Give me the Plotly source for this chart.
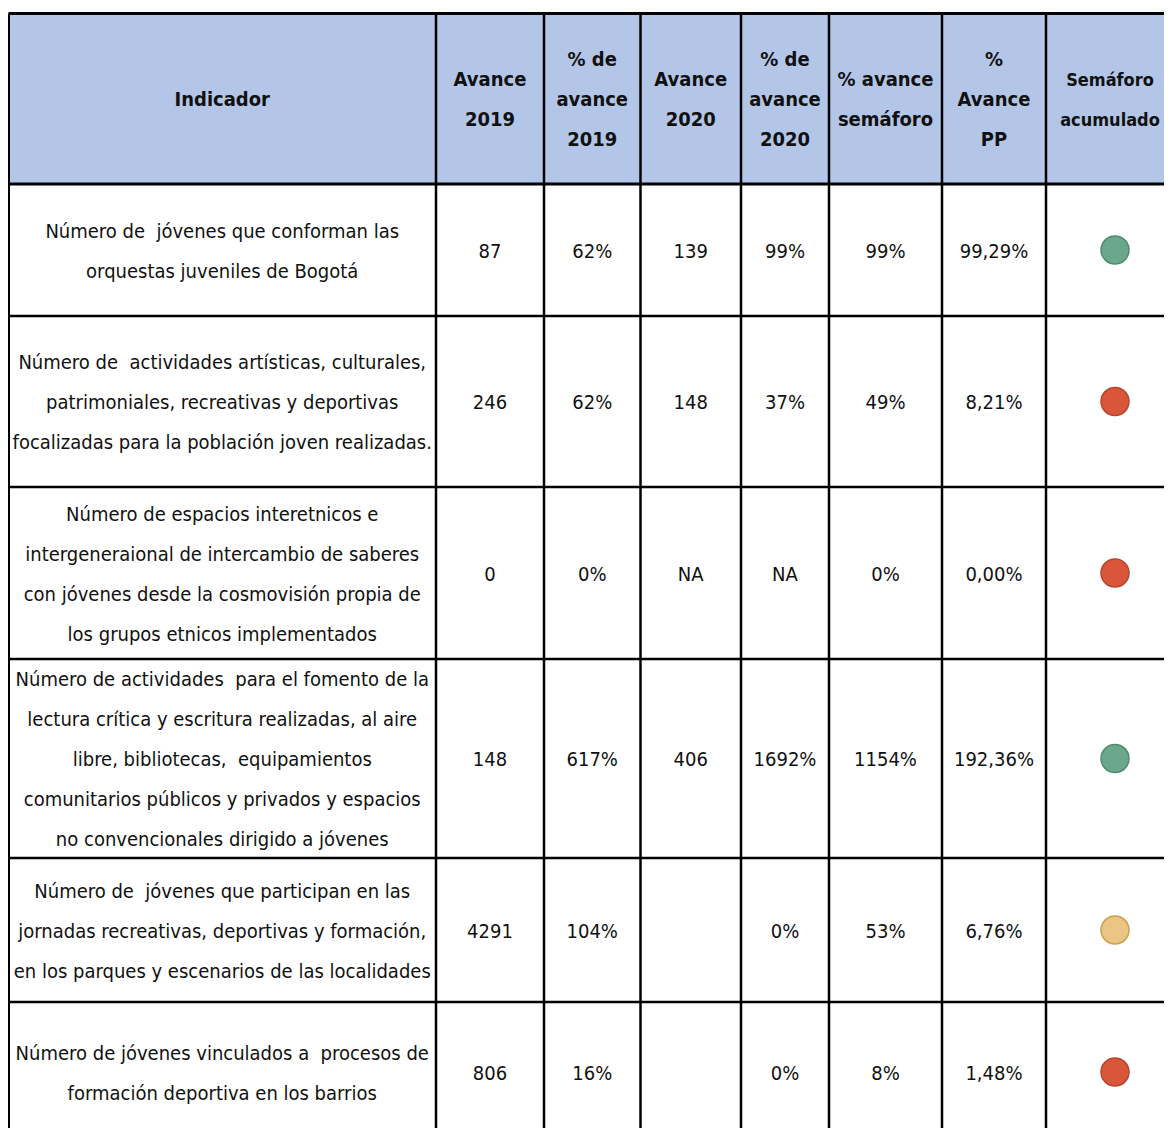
import plotly.graph_objects as go

# table content
headers = ["Indicador", "Avance<br>2019", "% de<br>avance<br>2019", "Avance<br>2020",
           "% de<br>avance<br>2020", "% avance<br>semáforo", "%<br>Avance<br>PP",
           "Semáforo<br>acumulado"]

indicadores = [
    "Número de \u00a0jóvenes que conforman las<br>orquestas juveniles de Bogotá",
    "Número de \u00a0actividades artísticas, culturales,<br>patrimoniales, recreativas y deportivas<br>focalizadas para la población joven realizadas.",
    "Número de espacios interetnicos e<br>intergeneraional de intercambio de saberes<br>con jóvenes desde la cosmovisión propia de<br>los grupos etnicos implementados",
    "Número de actividades \u00a0para el fomento de la<br>lectura crítica y escritura realizadas, al aire<br>libre, bibliotecas, \u00a0equipamientos<br>comunitarios públicos y privados y espacios<br>no convencionales dirigido a jóvenes",
    "Número de \u00a0jóvenes que participan en las<br>jornadas recreativas, deportivas y formación,<br>en los parques y escenarios de las localidades",
    "Número de jóvenes vinculados a \u00a0procesos de<br>formación deportiva en los barrios",
]
avance_2019 = ["87", "246", "0", "148", "4291", "806"]
pct_avance_2019 = ["62%", "62%", "0%", "617%", "104%", "16%"]
avance_2020 = ["139", "148", "NA", "406", "", ""]
pct_avance_2020 = ["99%", "37%", "NA", "1692%", "0%", "0%"]
pct_semaforo = ["99%", "49%", "0%", "1154%", "53%", "8%"]
pct_avance_pp = ["99,29%", "8,21%", "0,00%", "192,36%", "6,76%", "1,48%"]
semaforo = ["verde", "rojo", "rojo", "verde", "amarillo", "rojo"]

semaforo_fill = {"verde": "#6aa78d", "rojo": "#d9563a", "amarillo": "#ebc583"}
semaforo_line = {"verde": "#4e8b70", "rojo": "#b5472d", "amarillo": "#c9a24a"}

# layout of the grid, in window pixels (the page body has an 8px margin)
W, H = 1172, 1128
PAGE_MARGIN = 8
col_edges = [8.5, 436, 544, 640.5, 741, 829, 942, 1046, 1174]
row_edges = [13.5, 184, 316, 487, 659, 858, 1002, 1142]
line_step = 40
text_shift = 2.5
font_family = "DejaVu Sans Condensed, Liberation Sans Narrow, Arial Narrow, sans-serif"

columns = [indicadores, avance_2019, pct_avance_2019, avance_2020,
           pct_avance_2020, pct_semaforo, pct_avance_pp]

fig = go.Figure()


def add_cell_text(texts, col, row_top, row_bot, size, bold=False):
    xs, ys, labels = [], [], []
    for text, top, bot in zip(texts, row_top, row_bot):
        lines = text.split("<br>")
        mid = (top + bot) / 2 + text_shift
        for i, line in enumerate(lines):
            xs.append((col_edges[col] + col_edges[col + 1]) / 2)
            ys.append(mid + (i - (len(lines) - 1) / 2) * line_step)
            labels.append("<b>" + line + "</b>" if bold else line)
    fig.add_trace(go.Scatter(x=xs, y=ys, text=labels, mode="text",
                             textposition="middle center",
                             textfont=dict(family=font_family, size=size, color="#111111"),
                             hoverinfo="skip", showlegend=False, cliponaxis=False))


# header background
fig.add_shape(type="rect", x0=col_edges[0], x1=W + PAGE_MARGIN, y0=row_edges[0], y1=row_edges[1],
              fillcolor="#b4c6e7", line_width=0, layer="below")

for c, h in enumerate(headers):
    add_cell_text([h], c, [row_edges[0]], [row_edges[1]], 18 if c == len(headers) - 1 else 20, bold=True)

for c, values in enumerate(columns):
    add_cell_text(values, c, row_edges[1:-1], row_edges[2:], 20)

# semaforo circles
ys = [(a + b) / 2 for a, b in zip(row_edges[1:-1], row_edges[2:])]
fig.add_trace(go.Scatter(
    x=[1115] * len(semaforo), y=ys, mode="markers",
    marker=dict(size=28, color=[semaforo_fill[s] for s in semaforo],
                line=dict(color=[semaforo_line[s] for s in semaforo], width=1.5)),
    hoverinfo="skip", showlegend=False))

# grid lines
for i, x in enumerate(col_edges[:-1]):
    fig.add_shape(type="line", x0=x, x1=x, y0=row_edges[0], y1=row_edges[-1],
                  line=dict(color="black", width=3 if i == 0 else 2.5))
for i, y in enumerate(row_edges[:-1]):
    fig.add_shape(type="line", x0=col_edges[0], x1=W + PAGE_MARGIN, y0=y, y1=y,
                  line=dict(color="black", width=3 if i < 2 else 2.5))

fig.update_xaxes(range=[PAGE_MARGIN, W + PAGE_MARGIN], visible=False, fixedrange=True)
fig.update_yaxes(range=[H + PAGE_MARGIN, PAGE_MARGIN], visible=False, fixedrange=True)
fig.update_layout(width=W, height=H, margin=dict(l=0, r=0, t=0, b=0),
                  plot_bgcolor="white", paper_bgcolor="white")

fig.write_html("out.html", config={"displayModeBar": False})
